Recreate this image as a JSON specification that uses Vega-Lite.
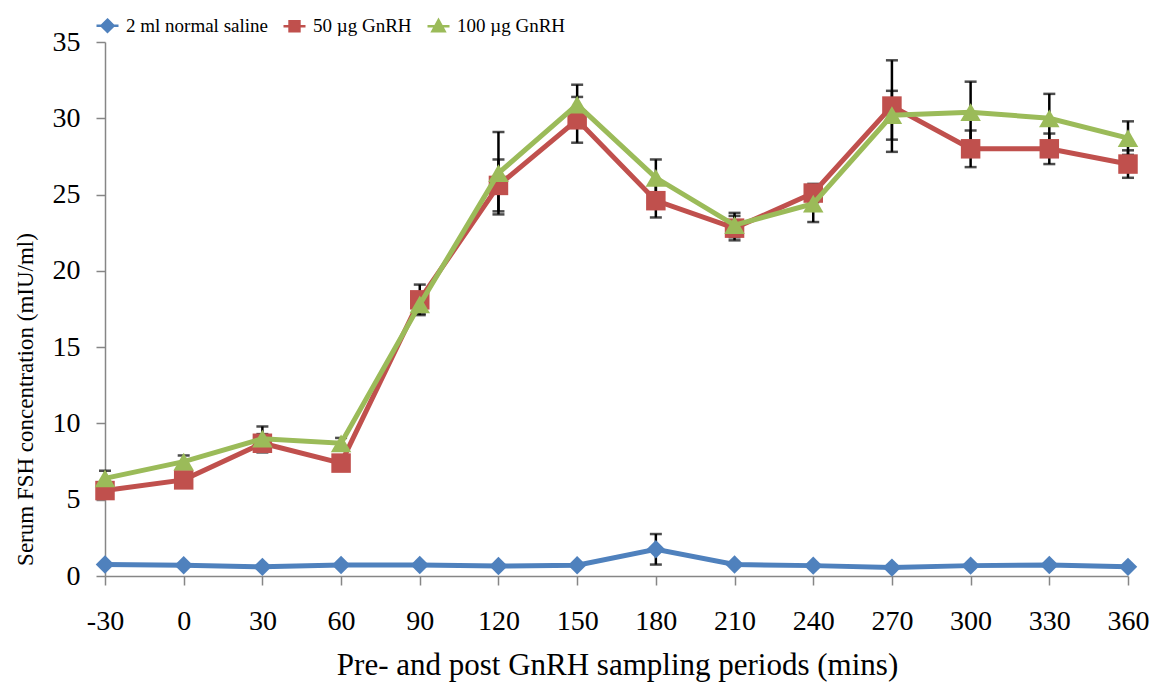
{
  "$schema": "https://vega.github.io/schema/vega-lite/v6.json",
  "width": 1023,
  "height": 534,
  "autosize": {"type": "none"},
  "padding": {"left": 105, "top": 42, "right": 35, "bottom": 112},
  "background": "white",
  "config": {
    "view": {"stroke": null},
    "font": "Liberation Serif",
    "axis": {"grid": false, "domainColor": "#868686", "tickColor": "#868686", "domainWidth": 1.5, "tickWidth": 1.5, "labelColor": "black", "titleColor": "black", "labelFont": "Liberation Serif", "titleFont": "Liberation Serif", "titleFontWeight": "normal"}
  },
  "data": {
    "values": [
      {"t": -30, "g": "2 ml normal saline", "v": 0.75, "e": 0},
      {"t": 0, "g": "2 ml normal saline", "v": 0.7, "e": 0},
      {"t": 30, "g": "2 ml normal saline", "v": 0.6, "e": 0},
      {"t": 60, "g": "2 ml normal saline", "v": 0.72, "e": 0},
      {"t": 90, "g": "2 ml normal saline", "v": 0.72, "e": 0},
      {"t": 120, "g": "2 ml normal saline", "v": 0.65, "e": 0},
      {"t": 150, "g": "2 ml normal saline", "v": 0.7, "e": 0},
      {"t": 180, "g": "2 ml normal saline", "v": 1.75, "e": 1.0},
      {"t": 210, "g": "2 ml normal saline", "v": 0.75, "e": 0},
      {"t": 240, "g": "2 ml normal saline", "v": 0.68, "e": 0},
      {"t": 270, "g": "2 ml normal saline", "v": 0.55, "e": 0},
      {"t": 300, "g": "2 ml normal saline", "v": 0.68, "e": 0},
      {"t": 330, "g": "2 ml normal saline", "v": 0.72, "e": 0},
      {"t": 360, "g": "2 ml normal saline", "v": 0.6, "e": 0},
      {"t": -30, "g": "50 µg GnRH", "v": 5.6, "e": 0.4},
      {"t": 0, "g": "50 µg GnRH", "v": 6.3, "e": 0.4},
      {"t": 30, "g": "50 µg GnRH", "v": 8.7, "e": 0.6},
      {"t": 60, "g": "50 µg GnRH", "v": 7.4, "e": 0.5},
      {"t": 90, "g": "50 µg GnRH", "v": 18.1, "e": 1.0},
      {"t": 120, "g": "50 µg GnRH", "v": 25.6, "e": 1.7},
      {"t": 150, "g": "50 µg GnRH", "v": 29.9, "e": 1.5},
      {"t": 180, "g": "50 µg GnRH", "v": 24.6, "e": 1.1},
      {"t": 210, "g": "50 µg GnRH", "v": 22.8, "e": 0.8},
      {"t": 240, "g": "50 µg GnRH", "v": 25.1, "e": 0.6},
      {"t": 270, "g": "50 µg GnRH", "v": 30.8, "e": 3.0},
      {"t": 300, "g": "50 µg GnRH", "v": 28.0, "e": 1.2},
      {"t": 330, "g": "50 µg GnRH", "v": 28.0, "e": 1.0},
      {"t": 360, "g": "50 µg GnRH", "v": 27.0, "e": 0.9},
      {"t": -30, "g": "100 µg GnRH", "v": 6.4, "e": 0.5},
      {"t": 0, "g": "100 µg GnRH", "v": 7.5, "e": 0.4},
      {"t": 30, "g": "100 µg GnRH", "v": 9.0, "e": 0.8},
      {"t": 60, "g": "100 µg GnRH", "v": 8.7, "e": 0.35},
      {"t": 90, "g": "100 µg GnRH", "v": 17.8, "e": 0.6},
      {"t": 120, "g": "100 µg GnRH", "v": 26.4, "e": 2.7},
      {"t": 150, "g": "100 µg GnRH", "v": 30.9, "e": 1.3},
      {"t": 180, "g": "100 µg GnRH", "v": 26.1, "e": 1.2},
      {"t": 210, "g": "100 µg GnRH", "v": 23.0, "e": 0.8},
      {"t": 240, "g": "100 µg GnRH", "v": 24.4, "e": 1.2},
      {"t": 270, "g": "100 µg GnRH", "v": 30.2, "e": 1.6},
      {"t": 300, "g": "100 µg GnRH", "v": 30.4, "e": 2.0},
      {"t": 330, "g": "100 µg GnRH", "v": 30.0, "e": 1.6},
      {"t": 360, "g": "100 µg GnRH", "v": 28.7, "e": 1.1}
    ]
  },
  "encoding": {
    "x": {
      "field": "t", "type": "ordinal", "sort": "ascending",
      "scale": {"type": "point", "padding": 0},
      "axis": {"title": "Pre- and post GnRH sampling periods (mins)", "labelAngle": 0, "labelFontSize": 28, "titleFontSize": 31, "tickSize": 9, "labelPadding": 22, "titleBaseline": "middle", "titleY": 89, "titleX": 512}
    },
    "y": {
      "field": "v", "type": "quantitative",
      "scale": {"domain": [0, 35], "nice": false, "zero": true},
      "axis": {"title": "Serum  FSH concentration (mIU/ml)", "values": [0, 5, 10, 15, 20, 25, 30, 35], "labelFontSize": 28, "titleFontSize": 23, "tickSize": 9, "labelPadding": 16, "titleX": -80, "titleY": 357, "titleAngle": -90, "titleBaseline": "middle"}
    },
    "color": {
      "field": "g", "type": "nominal",
      "scale": {"domain": ["2 ml normal saline", "50 µg GnRH", "100 µg GnRH"], "range": ["#4F81BD", "#C0504D", "#9BBB59"]},
      "legend": {
        "title": null, "orient": "none", "legendX": -10, "legendY": -29, "direction": "horizontal",
        "labelFont": "Liberation Serif", "labelFontSize": 19, "labelColor": "black", "symbolSize": 484, "columnPadding": 10, "labelOffset": 6,
        "encode": {"symbols": {"update": {
          "shape": {"signal": "datum.value === '2 ml normal saline' ? 'M-1,0H1M0,-0.55L0.55,0L0,0.55L-0.55,0Z' : datum.value === '50 µg GnRH' ? 'M-1,0H1M-0.45,-0.45H0.45V0.45H-0.45Z' : 'M-1,0H1M0,-0.55L0.55,0.45H-0.55Z'"},
          "fill": {"signal": "datum.value === '2 ml normal saline' ? '#24497A' : datum.value === '50 µg GnRH' ? '#C0504D' : '#A6A6A6'"},
          "stroke": {"signal": "datum.value === '2 ml normal saline' ? '#4F81BD' : datum.value === '50 µg GnRH' ? '#C0504D' : '#A6A6A6'"},
          "strokeWidth": {"value": 2.5},
          "opacity": {"value": 1}
        }}}
      }
    }
  },
  "layer": [
    {
      "transform": [{"filter": "datum.e > 0"}],
      "mark": {"type": "errorbar", "ticks": {"size": 12, "thickness": 2.5, "color": "black"}, "rule": {"strokeWidth": 2.5, "color": "black"}},
      "encoding": {"yError": {"field": "e"}, "color": {"value": "black"}}
    },
    {
      "transform": [{"filter": "datum.g === '2 ml normal saline'"}],
      "mark": {"type": "line", "strokeWidth": 5}
    },
    {
      "transform": [{"filter": "datum.g === '2 ml normal saline'"}],
      "mark": {"type": "point", "shape": "diamond", "filled": true, "size": 340, "opacity": 1}
    },
    {
      "transform": [{"filter": "datum.g === '50 µg GnRH'"}],
      "mark": {"type": "line", "strokeWidth": 5}
    },
    {
      "transform": [{"filter": "datum.g === '50 µg GnRH'"}],
      "mark": {"type": "point", "shape": "square", "filled": true, "size": 380, "opacity": 1}
    },
    {
      "transform": [{"filter": "datum.g === '100 µg GnRH'"}],
      "mark": {"type": "line", "strokeWidth": 5}
    },
    {
      "transform": [{"filter": "datum.g === '100 µg GnRH'"}],
      "mark": {"type": "point", "shape": "triangle-up", "filled": true, "size": 420, "opacity": 1}
    }
  ]
}
